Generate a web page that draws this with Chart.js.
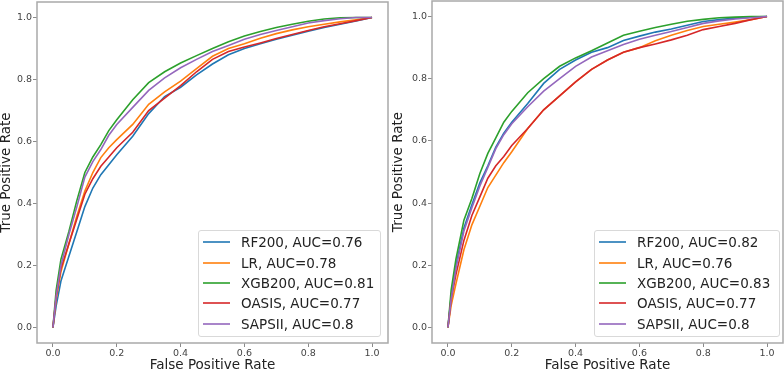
<!DOCTYPE html>
<html>
<head>
  <title>ROC curves</title>
  <script src="https://cdn.jsdelivr.net/npm/chart.js"></script>
  <style>
    body { margin: 0; background: #fff; font-family: 'DejaVu Sans', sans-serif; }
    #wrap { position: relative; width: 784px; height: 372px; overflow: hidden; }
    canvas { position: absolute; top: 0; }
    .legend {
      position: absolute;
      background: rgba(255, 255, 255, 0.85);
      border: 1px solid #d9d9d9;
      border-radius: 3px;
      box-sizing: border-box;
      padding-top: 1px;
    }
    .row {
      height: 20.4px;
      display: flex;
      align-items: center;
      font-size: 13.5px;
      color: #222;
      white-space: nowrap;
    }
    .swatch { width: 27px; height: 2px; margin: 0 11px 0 4px; opacity: 0.8; }
  </style>
</head>
<body>
  <div id="wrap">
    <canvas id="rocLeft" width="392" height="372" style="left:0"></canvas>
    <canvas id="rocRight" width="392" height="372" style="left:392px"></canvas>
  </div>

  <script>
    // false positive rate grid shared by every curve
    const fpr = [0, 0.01, 0.025, 0.05, 0.075, 0.1, 0.125, 0.15, 0.175, 0.2, 0.25, 0.3, 0.35,
                 0.4, 0.45, 0.5, 0.55, 0.6, 0.65, 0.7, 0.75, 0.8, 0.85, 0.9, 0.95, 1.0];
    const models = ['RF200', 'LR', 'XGB200', 'OASIS', 'SAPSII'];
    const colors = ['#1f77b4', '#ff7f0e', '#2ca02c', '#d62728', '#9467bd'];
    const tickValues = [0, 0.2, 0.4, 0.6, 0.8, 1.0];

    // left panel
    const aucLeft = [0.76, 0.78, 0.81, 0.77, 0.8];
    const leftRF200 = [0, 0.07, 0.15, 0.23, 0.31, 0.39, 0.45, 0.493, 0.525, 0.557, 0.617, 0.69, 0.745,
                       0.775, 0.815, 0.85, 0.88, 0.9, 0.915, 0.93, 0.943, 0.956, 0.968, 0.978, 0.989, 1.0];
    const leftLR = [0, 0.09, 0.18, 0.27, 0.36, 0.44, 0.5, 0.548, 0.58, 0.606, 0.655, 0.72, 0.76,
                    0.795, 0.835, 0.875, 0.9, 0.915, 0.933, 0.948, 0.96, 0.97, 0.978, 0.986, 0.993, 1.0];
    const leftXGB200 = [0, 0.12, 0.22, 0.31, 0.41, 0.5, 0.55, 0.59, 0.635, 0.67, 0.735, 0.79, 0.825,
                        0.853, 0.877, 0.9, 0.922, 0.94, 0.955, 0.968, 0.978, 0.988, 0.995, 0.999, 1.0, 1.0];
    const leftOASIS = [0, 0.1, 0.19, 0.27, 0.35, 0.43, 0.48, 0.52, 0.55, 0.58, 0.63, 0.7, 0.74,
                       0.78, 0.825, 0.865, 0.89, 0.905, 0.918, 0.932, 0.945, 0.958, 0.97, 0.98, 0.99, 1.0];
    const leftSAPSII = [0, 0.1, 0.2, 0.3, 0.39, 0.485, 0.535, 0.574, 0.62, 0.655, 0.71, 0.765, 0.805,
                        0.838, 0.865, 0.89, 0.91, 0.93, 0.945, 0.958, 0.97, 0.982, 0.99, 0.996, 1.0, 1.0];

    // right panel
    const aucRight = [0.82, 0.76, 0.83, 0.77, 0.8];
    const rightRF200 = [0, 0.1, 0.2, 0.32, 0.395, 0.465, 0.52, 0.58, 0.625, 0.66, 0.72, 0.785, 0.83,
                        0.86, 0.885, 0.9, 0.923, 0.937, 0.95, 0.96, 0.972, 0.984, 0.99, 0.995, 0.998, 1.0];
    const rightLR = [0, 0.07, 0.14, 0.25, 0.33, 0.39, 0.45, 0.49, 0.53, 0.565, 0.64, 0.7, 0.745,
                     0.79, 0.83, 0.86, 0.885, 0.9, 0.922, 0.94, 0.955, 0.968, 0.975, 0.982, 0.99, 1.0];
    const rightXGB200 = [0, 0.12, 0.22, 0.345, 0.415, 0.495, 0.56, 0.61, 0.66, 0.695, 0.755, 0.8, 0.84,
                         0.867, 0.89, 0.915, 0.94, 0.953, 0.965, 0.975, 0.985, 0.991, 0.996, 0.998, 1.0, 1.0];
    const rightOASIS = [0, 0.09, 0.17, 0.28, 0.36, 0.42, 0.48, 0.52, 0.55, 0.585, 0.64, 0.7, 0.745,
                        0.79, 0.83, 0.86, 0.885, 0.9, 0.912, 0.925, 0.94, 0.958, 0.968, 0.978, 0.99, 1.0];
    const rightSAPSII = [0, 0.09, 0.19, 0.31, 0.385, 0.455, 0.515, 0.575, 0.62, 0.655, 0.71, 0.76, 0.8,
                         0.84, 0.87, 0.89, 0.91, 0.927, 0.94, 0.952, 0.965, 0.978, 0.986, 0.992, 0.996, 1.0];

    const font = "'DejaVu Sans', sans-serif";

    // matplotlib style box around the axes
    const framePlugin = {
      id: 'frame',
      afterDatasetsDraw(chart) {
        const a = chart.chartArea, c = chart.ctx;
        c.save();
        c.strokeStyle = '#a9a9a9';
        c.lineWidth = 1.5;
        c.strokeRect(a.left, a.top, a.right - a.left, a.bottom - a.top);
        c.restore();
      }
    };

    function axis(title, fit) {
      return {
        type: 'linear',
        min: -0.05,
        max: 1.05,
        afterBuildTicks: s => { s.ticks = tickValues.map(v => ({ value: v })); },
        afterFit: s => {
          fit(s);
          // ticks never sit on the axis ends, so no extra room for them
          s.paddingTop = 0; s.paddingBottom = 0;
          s.paddingLeft = 0; s.paddingRight = 0;
        },
        grid: { drawOnChartArea: false, drawTicks: true, tickLength: 4, color: '#8a8a8a' },
        border: { display: false },
        ticks: {
          padding: 1,
          color: '#444',
          font: { family: font, size: 9.5 },
          callback: v => v.toFixed(1)
        },
        title: { display: true, text: title, color: '#222', padding: 0,
                 font: { family: font, size: 13.5, lineHeight: 1 } }
      };
    }

    function makeChart(id, curves, aucs, yWidth, pad, legendBox) {
      const datasets = curves.map((vals, i) => ({
        label: `${models[i]}, AUC=${aucs[i]}`,
        data: fpr.map((x, k) => ({ x: x, y: vals[k] })),
        borderColor: colors[i],
        borderWidth: 1.6,
        pointRadius: 0,
        tension: 0,
        order: curves.length - i
      }));

      const chart = new Chart(document.getElementById(id), {
        type: 'line',
        data: { datasets },
        options: {
          responsive: false,
          animation: false,
          layout: { padding: pad },
          plugins: { legend: { display: false }, tooltip: { enabled: false } },
          scales: {
            x: axis('False Positive Rate', s => { s.height = 29; }),
            y: axis('True Positive Rate', s => { s.width = yWidth; })
          }
        },
        plugins: [framePlugin]
      });

      // legend box in the lower right corner of the axes
      const box = document.createElement('div');
      box.className = 'legend';
      Object.assign(box.style, legendBox);
      chart.data.datasets.forEach(ds => {
        const row = document.createElement('div');
        row.className = 'row';
        const sw = document.createElement('span');
        sw.className = 'swatch';
        sw.style.background = ds.borderColor;
        const txt = document.createElement('span');
        txt.textContent = ds.label;
        row.appendChild(sw);
        row.appendChild(txt);
        box.appendChild(row);
      });
      document.getElementById('wrap').appendChild(box);
      return chart;
    }

    makeChart('rocLeft',
      [leftRF200, leftLR, leftXGB200, leftOASIS, leftSAPSII], aucLeft,
      37, { left: 0, right: 4, top: 2, bottom: 0 },
      { left: '198px', top: '230px', width: '183px', height: '107px' });

    makeChart('rocRight',
      [rightRF200, rightLR, rightXGB200, rightOASIS, rightSAPSII], aucRight,
      40, { left: 0, right: 1, top: 1, bottom: 0 },
      { left: '594px', top: '230px', width: '186px', height: '107px' });
  </script>
</body>
</html>
